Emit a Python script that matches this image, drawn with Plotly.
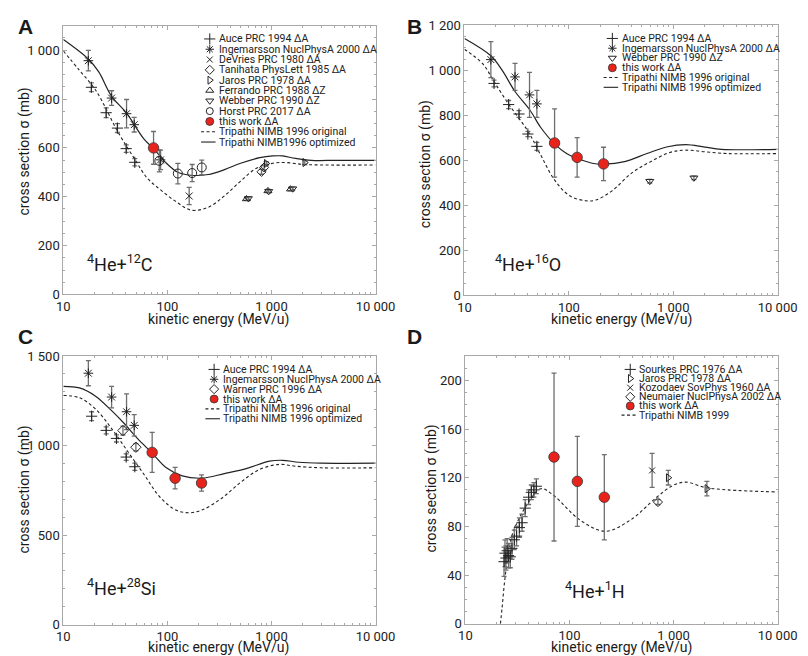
import plotly.graph_objects as go

W, H = 808, 656

# ---------------- Panel A: 4He + 12C ----------------
A_auce_E = [18.6, 25.8, 33.1, 40.2, 48.6]
A_auce_s = [848, 744, 681, 597, 541]
A_auce_err = [18, 20, 18, 15, 15]
A_ing_E = [17.4, 29.1, 40.5, 48.0, 86.0]
A_ing_s = [957, 804, 740, 695, 551]
A_ing_err = [42, 30, 58, 30, 40]
A_dev_E = [162]
A_dev_s = [403]
A_dev_err = [35]
A_tan_E = [802, 850]
A_tan_s = [502, 520]
A_tan_err = [10, 10]
A_jar_E = [891, 2090]
A_jar_s = [536, 540]
A_jar_err = [8, 8]
A_fer_E = [575, 925, 1524]
A_fer_s = [391, 424, 431]
A_fer_err = [6, 6, 6]
A_web_E = [600, 940, 1600]
A_web_s = [393, 422, 433]
A_web_err = [6, 6, 6]
A_hor_E = [83.6, 126, 173, 214]
A_hor_s = [547, 495, 497, 520]
A_hor_err = [45, 42, 35, 30]
A_tw_E = [73.6]
A_tw_s = [600]
A_tw_err = [67]
A_opt_E = [10, 17.4, 21.9, 29.1, 40.2, 59.4, 73.6, 97.9, 126, 167, 247, 354, 505, 772, 1030, 1278, 1694, 2417, 4268, 10000]
A_opt_s = [1044, 964, 911, 811, 744, 637, 597, 537, 500, 488, 491, 511, 537, 560, 567, 567, 557, 549, 549, 549]
A_orig_E = [10, 14.3, 20.4, 33.6, 48, 63.8, 85, 121, 170, 247, 354, 505, 720, 1030, 1368, 2090, 10000]
A_orig_s = [997, 917, 837, 664, 557, 477, 430, 380, 345, 357, 404, 464, 517, 537, 540, 532, 530]

# ---------------- Panel B: 4He + 16O ----------------
B_auce_E = [19.2, 26.5, 33.3, 40.5, 49.4]
B_auce_s = [942, 848, 806, 717, 662]
B_auce_err = [15, 18, 15, 12, 18]
B_ing_E = [17.9, 30.5, 42.0, 49.4]
B_ing_s = [1048, 971, 891, 851]
B_ing_err = [80, 60, 100, 60]
B_web_E = [596, 1578]
B_web_s = [507, 522]
B_web_err = [8, 8]
B_tw_E = [73, 120, 215]
B_tw_s = [677, 613, 584]
B_tw_err = [152, 88, 74]
B_opt_E = [10, 17.9, 23, 30.5, 42, 53.8, 72.6, 95, 120, 167, 218, 342, 560, 862, 1318, 2006, 2890, 10000]
B_opt_s = [1142, 1065, 1000, 906, 826, 746, 674, 630, 609, 587, 583, 594, 630, 659, 670, 659, 649, 649]
B_orig_E = [10, 15, 19.2, 26.5, 40.5, 53.8, 72.6, 102, 145, 181, 259, 399, 607, 930, 1318, 2006, 3300, 10000]
B_orig_s = [1094, 1029, 950, 850, 730, 623, 514, 442, 420, 423, 464, 543, 594, 635, 645, 638, 630, 630]

# ---------------- Panel C: 4He + 28Si ----------------
C_auce_E = [18.7, 25.8, 32.4, 40.2, 48.6]
C_auce_s = [1164, 1085, 1040, 936, 882]
C_auce_err = [25, 20, 20, 18, 20]
C_ing_E = [17.4, 29.1, 40.5, 48.0]
C_ing_s = [1404, 1271, 1189, 1113]
C_ing_err = [70, 60, 100, 60]
C_war_E = [37.4, 49.8]
C_war_s = [1084, 991]
C_war_err = [25, 20]
C_tw_E = [71.4, 118.6, 213]
C_tw_s = [962, 818, 791]
C_tw_err = [112, 60, 45]
C_opt_E = [10, 14.3, 20.4, 29.1, 38.7, 51.5, 71.4, 97.8, 139, 214, 353, 582, 957, 1274, 1826, 3000, 10000]
C_opt_s = [1331, 1322, 1276, 1195, 1122, 1040, 958, 876, 831, 818, 844, 873, 913, 918, 907, 902, 902]
C_orig_E = [10, 14.3, 20.4, 29.1, 41.6, 59.4, 84.6, 121, 161, 214, 329, 505, 772, 1185, 1694, 3000, 10000]
C_orig_s = [1280, 1267, 1204, 1095, 967, 840, 713, 640, 625, 640, 704, 795, 867, 895, 885, 876, 876]

# ---------------- Panel D: 4He + 1H ----------------
D_sou_E = [23.5, 24.0, 24.5, 25.2, 26.0, 27.0, 28.0, 29.5, 31.0, 33.0, 35.0, 37.5, 40.5, 43.0, 45.5, 48.0]
D_sou_s = [51, 58, 54, 60, 56, 55, 62, 69, 72, 79, 83, 95, 104, 108, 110, 113]
D_sou_err = [12, 11, 10, 10, 10, 9, 9, 8, 8, 8, 7, 7, 6, 6, 6, 6]
D_jar_E = [889, 2090]
D_jar_s = [120, 111]
D_jar_err = [6, 6]
D_koz_E = [622]
D_koz_s = [126]
D_koz_err = [14]
D_neu_E = [708]
D_neu_s = [100]
D_neu_err = [2]
D_tw_E = [71, 119, 216]
D_tw_s = [137, 117, 104]
D_tw_err = [69, 37, 35]
D_tri_E = [21.7, 22.5, 24.2, 27.9, 32.2, 39.8, 53, 70, 125, 220, 389, 689, 984, 1309, 2010, 3310, 10000]
D_tri_s = [0, 13, 40, 72, 85, 99, 111, 105.6, 85.5, 76, 85.5, 104, 113.6, 116.4, 112, 110, 108.3]

# ---------------- styling ----------------
FONT = "Roboto"
LINE = "#222222"
ERR = "#6e6e6e"
RED = "#e8231b"
FRAME = "#a8a8a8"


def fx(x):  # pixel -> paper fraction
    return x / W


def fy(y):
    return 1 - y / H


fig = go.Figure()

panels = {
    "A": dict(x=[50, 373], y=[286, 11], yr=[0, 1100], yt=[0, 200, 400, 600, 800, 1000],
              ytt=["0", "200", "400", "600", "800", "1 000"], ym=50),
    "B": dict(x=[465, 789], y=[286.7, 10.7], yr=[0, 1200], yt=[0, 200, 400, 600, 800, 1000, 1200],
              ytt=["0", "200", "400", "600", "800", "1 000", "1 200"], ym=50),
    "C": dict(x=[50, 373], y=[624, 349], yr=[0, 1500], yt=[0, 500, 1000, 1500],
              ytt=["0", "500", "1 000", "1 500"], ym=100),
    "D": dict(x=[466, 789], y=[623, 349], yr=[0, 220], yt=[0, 40, 80, 120, 160, 200],
              ytt=["0", "40", "80", "120", "160", "200"], ym=10),
}
axis_ids = {"A": ("x", "y"), "B": ("x2", "y2"), "C": ("x3", "y3"), "D": ("x4", "y4")}

minor_x = [m * 10 ** k for k in range(1, 4) for m in range(2, 10)]

for i, (key, p) in enumerate(panels.items()):
    n = "" if i == 0 else str(i + 1)
    xa = dict(type="log", range=[1, 4], domain=[fx(p["x"][0]), fx(p["x"][1])],
              anchor="y" + n, showgrid=False, zeroline=False,
              showline=True, linecolor=FRAME, linewidth=1, mirror="ticks",
              ticks="inside", ticklen=4, tickcolor=FRAME,
              tickvals=[10, 100, 1000, 10000], ticktext=["10", "100", "1 000", "10 000"],
              tickfont=dict(family=FONT, size=13, color="#222"),
              minor=dict(tickvals=minor_x, ticks="inside", ticklen=2, tickcolor=FRAME))
    ya = dict(range=p["yr"], domain=[fy(p["y"][0]), fy(p["y"][1])],
              anchor="x" + n, showgrid=False, zeroline=False,
              showline=True, linecolor=FRAME, linewidth=1, mirror="ticks",
              ticks="inside", ticklen=4, tickcolor=FRAME,
              tickvals=p["yt"], ticktext=p["ytt"],
              tickfont=dict(family=FONT, size=13, color="#222"),
              minor=dict(dtick=p["ym"], ticks="inside", ticklen=2, tickcolor=FRAME))
    fig.layout["xaxis" + n] = xa
    fig.layout["yaxis" + n] = ya


def add_pts(key, E, s, err, symbol, size=8, color="#222", fill=None, lw=1.0):
    xr, yr = axis_ids[key]
    mk = dict(symbol=symbol, size=size, color=fill if fill else color,
              line=dict(color=color, width=lw))
    fig.add_trace(go.Scatter(x=E, y=s, mode="markers", marker=mk, xaxis=xr, yaxis=yr,
                             error_y=dict(type="data", array=err, color=ERR, thickness=1.3, width=2.5),
                             showlegend=False, cliponaxis=False))


def add_curve(key, E, s, dash):
    xr, yr = axis_ids[key]
    fig.add_trace(go.Scatter(x=E, y=s, mode="lines", xaxis=xr, yaxis=yr, showlegend=False,
                             line=dict(color=LINE, width=1.2 if dash == "solid" else 1.1,
                                       dash=dash, shape="spline", smoothing=1.0)))


DASH = "3px,2.5px"
RED_SZ = 10.5

# Panel A
add_curve("A", A_orig_E, A_orig_s, DASH)
add_curve("A", A_opt_E, A_opt_s, "solid")
add_pts("A", A_auce_E, A_auce_s, A_auce_err, "cross-thin-open", 8)
add_pts("A", A_ing_E, A_ing_s, A_ing_err, "asterisk-open", 8)
add_pts("A", A_dev_E, A_dev_s, A_dev_err, "x-thin-open", 7)
add_pts("A", A_tan_E, A_tan_s, A_tan_err, "diamond-open", 7)
add_pts("A", A_jar_E, A_jar_s, A_jar_err, "triangle-right-open", 7)
add_pts("A", A_fer_E, A_fer_s, A_fer_err, "triangle-up-open", 7)
add_pts("A", A_web_E, A_web_s, A_web_err, "triangle-down-open", 7)
add_pts("A", A_hor_E, A_hor_s, A_hor_err, "circle-open", 9)
add_pts("A", A_tw_E, A_tw_s, A_tw_err, "circle", RED_SZ, color="#333", fill=RED, lw=0.8)

# Panel B
add_curve("B", B_orig_E, B_orig_s, DASH)
add_curve("B", B_opt_E, B_opt_s, "solid")
add_pts("B", B_auce_E, B_auce_s, B_auce_err, "cross-thin-open", 8)
add_pts("B", B_ing_E, B_ing_s, B_ing_err, "asterisk-open", 8)
add_pts("B", B_web_E, B_web_s, B_web_err, "triangle-down-open", 7)
add_pts("B", B_tw_E, B_tw_s, B_tw_err, "circle", RED_SZ, color="#333", fill=RED, lw=0.8)

# Panel C
add_curve("C", C_orig_E, C_orig_s, DASH)
add_curve("C", C_opt_E, C_opt_s, "solid")
add_pts("C", C_auce_E, C_auce_s, C_auce_err, "cross-thin-open", 8)
add_pts("C", C_ing_E, C_ing_s, C_ing_err, "asterisk-open", 8)
add_pts("C", C_war_E, C_war_s, C_war_err, "diamond-open", 8)
add_pts("C", C_tw_E, C_tw_s, C_tw_err, "circle", RED_SZ, color="#333", fill=RED, lw=0.8)

# Panel D
add_curve("D", D_tri_E, D_tri_s, DASH)
add_pts("D", D_sou_E, D_sou_s, D_sou_err, "cross-thin-open", 8)
add_pts("D", D_jar_E, D_jar_s, D_jar_err, "triangle-right-open", 7)
add_pts("D", D_koz_E, D_koz_s, D_koz_err, "x-thin-open", 6)
add_pts("D", D_neu_E, D_neu_s, D_neu_err, "diamond-open", 7)
add_pts("D", D_tw_E, D_tw_s, D_tw_err, "circle", RED_SZ, color="#333", fill=RED, lw=0.8)

# ---------------- custom legends (overlay axis in pixels) ----------------
fig.layout["xaxis5"] = dict(domain=[0, 1], range=[0, W], visible=False, fixedrange=True, anchor="y5")
fig.layout["yaxis5"] = dict(domain=[0, 1], range=[H, 0], visible=False, fixedrange=True, anchor="x5")

legend_A = [("+", "Auce PRC 1994 ΔA"), ("ast", "Ingemarsson NuclPhysA 2000 ΔA"),
            ("x", "DeVries PRC 1980 ΔA"), ("dia", "Tanihata PhysLett 1985 ΔA"),
            ("tr", "Jaros PRC 1978 ΔA"), ("tu", "Ferrando PRC 1988 ΔZ"),
            ("td", "Webber PRC 1990 ΔZ"), ("o", "Horst PRC 2017 ΔA"),
            ("red", "this work ΔA"), ("dash", "Tripathi NIMB 1996 original"),
            ("solid", "Tripathi NIMB1996 optimized")]
legend_B = [("+", "Auce PRC 1994 ΔA"), ("ast", "Ingemarsson NuclPhysA 2000 ΔA"),
            ("td", "Webber PRC 1990 ΔZ"), ("red", "this work ΔA"),
            ("dash", "Tripathi NIMB 1996 original"), ("solid", "Tripathi NIMB 1996 optimized")]
legend_C = [("+", "Auce PRC 1994 ΔA"), ("ast", "Ingemarsson NuclPhysA 2000 ΔA"),
            ("dia", "Warner PRC 1996 ΔA"), ("red", "this work ΔA"),
            ("dash", "Tripathi NIMB 1996 original"), ("solid", "Tripathi NIMB 1996 optimized")]
legend_D = [("+", "Sourkes PRC 1976 ΔA"), ("tr", "Jaros PRC 1978 ΔA"),
            ("x", "Kozodaev SovPhys 1960 ΔA"), ("dia", "Neumaier NuclPhysA 2002 ΔA"),
            ("red", "this work ΔA"), ("dash", "Tripathi NIMB 1999")]

# (items, symbol x, first row y, row step) in pixels
legend_pos = [(legend_A, 201.5, 24.5, 10.55), (legend_B, 618.0, 24.0, 10.0),
              (legend_C, 206.0, 362.7, 10.1), (legend_D, 636.5, 362.7, 9.35)]

sym_map = {"+": ("cross-thin-open", 8), "ast": ("asterisk-open", 7), "x": ("x-thin-open", 6),
           "dia": ("diamond-open", 7), "tr": ("triangle-right-open", 7),
           "tu": ("triangle-up-open", 7), "td": ("triangle-down-open", 7),
           "o": ("circle-open", 7), "red": ("circle", 8)}

for items, sx, y0, dy in legend_pos:
    for j, (sym, label) in enumerate(items):
        yy = y0 + j * dy
        if sym in ("dash", "solid"):
            fig.add_trace(go.Scatter(x=[sx - 9, sx + 6], y=[yy, yy], mode="lines", xaxis="x5", yaxis="y5",
                                     showlegend=False, hoverinfo="skip",
                                     line=dict(color=LINE, width=1.1, dash=DASH if sym == "dash" else "solid")))
        else:
            s, sz = sym_map[sym]
            if sym == "red":
                mk = dict(symbol=s, size=sz, color=RED, line=dict(color="#333", width=0.8))
            else:
                mk = dict(symbol=s, size=sz, color="#222", line=dict(color="#222", width=1))
            fig.add_trace(go.Scatter(x=[sx], y=[yy], mode="markers", marker=mk, xaxis="x5", yaxis="y5",
                                     showlegend=False, hoverinfo="skip"))
        fig.add_annotation(x=fx(sx + 7.5), y=fy(yy), xref="paper", yref="paper", text=label,
                           showarrow=False, xanchor="left", yanchor="middle",
                           font=dict(family=FONT, size=10.5, color="#222"))

# ---------------- texts (pixels) ----------------
texts = [
    # panel letters
    ("<b>A</b>", 1, 12, "left", 0, 21),
    ("<b>B</b>", 403, 12, "left", 0, 21),
    ("<b>C</b>", 1, 329, "left", 0, 21),
    ("<b>D</b>", 403, 329, "left", 0, 21),
    # reaction labels
    ("<sup>4</sup>He+<sup>12</sup>C", 72, 254, "left", 0, 18),
    ("<sup>4</sup>He+<sup>16</sup>O", 495, 254, "left", 0, 18),
    ("<sup>4</sup>He+<sup>28</sup>Si", 72, 585, "left", 0, 18),
    ("<sup>4</sup>He+<sup>1</sup>H", 567, 588, "left", 0, 18),
    # axis titles
    ("kinetic energy (MeV/u)", 211, 312, "center", 0, 14),
    ("kinetic energy (MeV/u)", 627, 312, "center", 0, 14),
    ("kinetic energy (MeV/u)", 211, 647, "center", 0, 14),
    ("kinetic energy (MeV/u)", 627, 647, "center", 0, 14),
    ("cross section σ (mb)", 10, 140, "center", -90, 14),
    ("cross section σ (mb)", 425, 153, "center", -90, 14),
    ("cross section σ (mb)", 10, 486, "center", -90, 14),
    ("cross section σ (mb)", 431, 485, "center", -90, 14),
]
for t, px, py, anc, ang, fs in texts:
    kw = dict(textangle=ang) if ang else {}
    fig.add_annotation(x=fx(px), y=fy(py), xref="paper", yref="paper", text=t, showarrow=False,
                       xanchor=anc, yanchor="middle",
                       font=dict(family="Liberation Sans" if "<b>" in t else FONT, size=fs, color="#1a1a1a"),
                       **kw)

fig.update_layout(width=W, height=H, margin=dict(l=0, r=0, t=0, b=0),
                  paper_bgcolor="white", plot_bgcolor="rgba(0,0,0,0)", showlegend=False,
                  font=dict(family=FONT, color="#222"))

fig.write_html("out.html")
